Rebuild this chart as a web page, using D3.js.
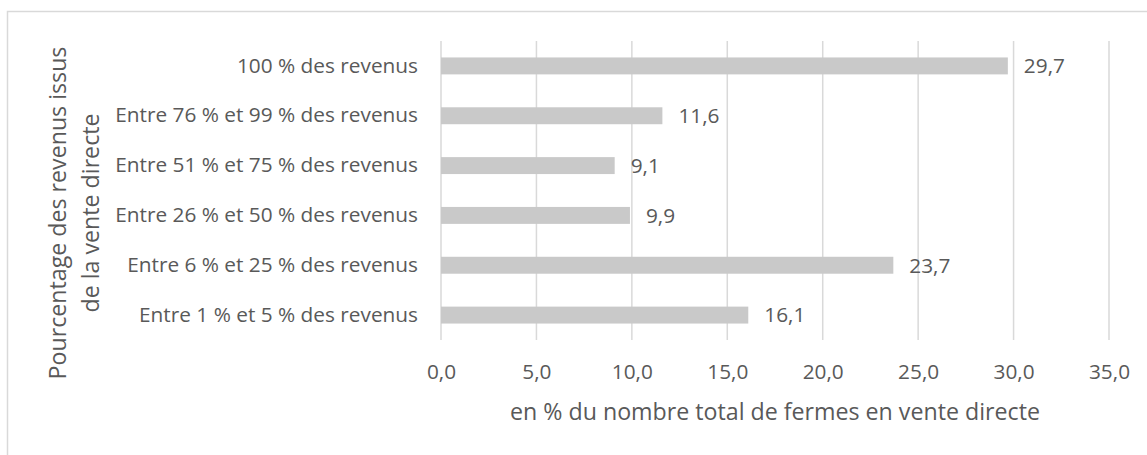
<!DOCTYPE html>
<html>
<head>
<meta charset="utf-8">
<script src="https://cdn.jsdelivr.net/npm/d3@7"></script>
<style>
  body { margin: 0; background: #fff; }
  text { font-family: "Open Sans", sans-serif; fill: #595959; }
</style>
</head>
<body>
<div id="chart"></div>
<script>
// categories, top to bottom
const categories = [
  "100 % des revenus",
  "Entre 76 % et 99 % des revenus",
  "Entre 51 % et 75 % des revenus",
  "Entre 26 % et 50 % des revenus",
  "Entre 6 % et 25 % des revenus",
  "Entre 1 % et 5 % des revenus"
];
const values = [29.7, 11.6, 9.1, 9.9, 23.7, 16.1];
const xTicks = [0, 5, 10, 15, 20, 25, 30, 35];
const xTitle = "en % du nombre total de fermes en vente directe";
const yTitle = ["Pourcentage des revenus issus", "de la vente directe"];

const W = 1147, H = 455;
const FS = "20.8px";   // labels
const FT = "23.2px";   // axis titles
let margin = {top: 41, right: 38, bottom: 115, left: 441},
    width = W - margin.left - margin.right,
    height = H - margin.top - margin.bottom;

const fmt = d => d3.format(".1f")(d).replace(".", ",");

let root = d3.select("#chart")
    .append("svg")
    .attr("width", W)
    .attr("height", H);

// outer frame
root.append("rect")
    .attr("x", 7.5).attr("y", 11.5)
    .attr("width", 1160).attr("height", 460)
    .attr("fill", "none")
    .attr("stroke", "#d9d9d9")
    .attr("stroke-width", 1.5);

let svg = root.append("g")
    .attr("transform", "translate(" + margin.left + "," + margin.top + ")");

let x = d3.scaleLinear()
    .domain([0, 35])
    .range([0, width]);

let y = d3.scaleBand()
    .domain(categories)
    .range([0, height])
    .paddingInner(0.66)
    .paddingOuter(0.33);

// gridlines
svg.append("g")
    .selectAll("line")
    .data(xTicks)
    .enter()
    .append("line")
    .attr("x1", d => x(d)).attr("x2", d => x(d))
    .attr("y1", 0).attr("y2", height)
    .attr("stroke", "#d9d9d9")
    .attr("stroke-width", 1.5);

// x tick labels
let xAxis = svg.append("g")
    .attr("transform", "translate(0," + height + ")")
    .call(d3.axisBottom(x).tickValues(xTicks).tickFormat(fmt).tickSize(0).tickPadding(24));
xAxis.select(".domain").remove();
xAxis.selectAll("text")
    .style("font-size", FS)
    .style("font-family", "'Open Sans', sans-serif")
    .attr("fill", "#595959");

// y labels
let yAxis = svg.append("g")
    .call(d3.axisLeft(y).tickSize(0).tickPadding(23));
yAxis.select(".domain").remove();
yAxis.selectAll("text")
    .style("font-size", FS)
    .style("font-family", "'Open Sans', sans-serif")
    .attr("fill", "#595959");

// bars
svg.append("g")
    .selectAll("rect")
    .data(values)
    .enter()
    .append("rect")
    .attr("x", x(0))
    .attr("y", (d, i) => y(categories[i]))
    .attr("width", d => x(d) - x(0))
    .attr("height", y.bandwidth())
    .attr("fill", "#c9c9c9");

// value labels
svg.append("g")
    .selectAll("text")
    .data(values)
    .enter()
    .append("text")
    .attr("x", d => x(d) + 16)
    .attr("y", (d, i) => y(categories[i]) + y.bandwidth() / 2)
    .attr("dy", "0.35em")
    .style("font-size", FS)
    .text(d => fmt(d));

// x title
svg.append("text")
    .attr("x", width / 2)
    .attr("y", height + 80)
    .attr("text-anchor", "middle")
    .style("font-size", FT)
    .text(xTitle);

// y title, two lines
let yt = root.append("text")
    .attr("transform", "translate(0,213) rotate(-90)")
    .attr("text-anchor", "middle")
    .style("font-size", FT);
yt.selectAll("tspan")
    .data(yTitle)
    .enter()
    .append("tspan")
    .attr("x", 0)
    .attr("y", (d, i) => 66 + i * 33)
    .text(d => d);
</script>
</body>
</html>
